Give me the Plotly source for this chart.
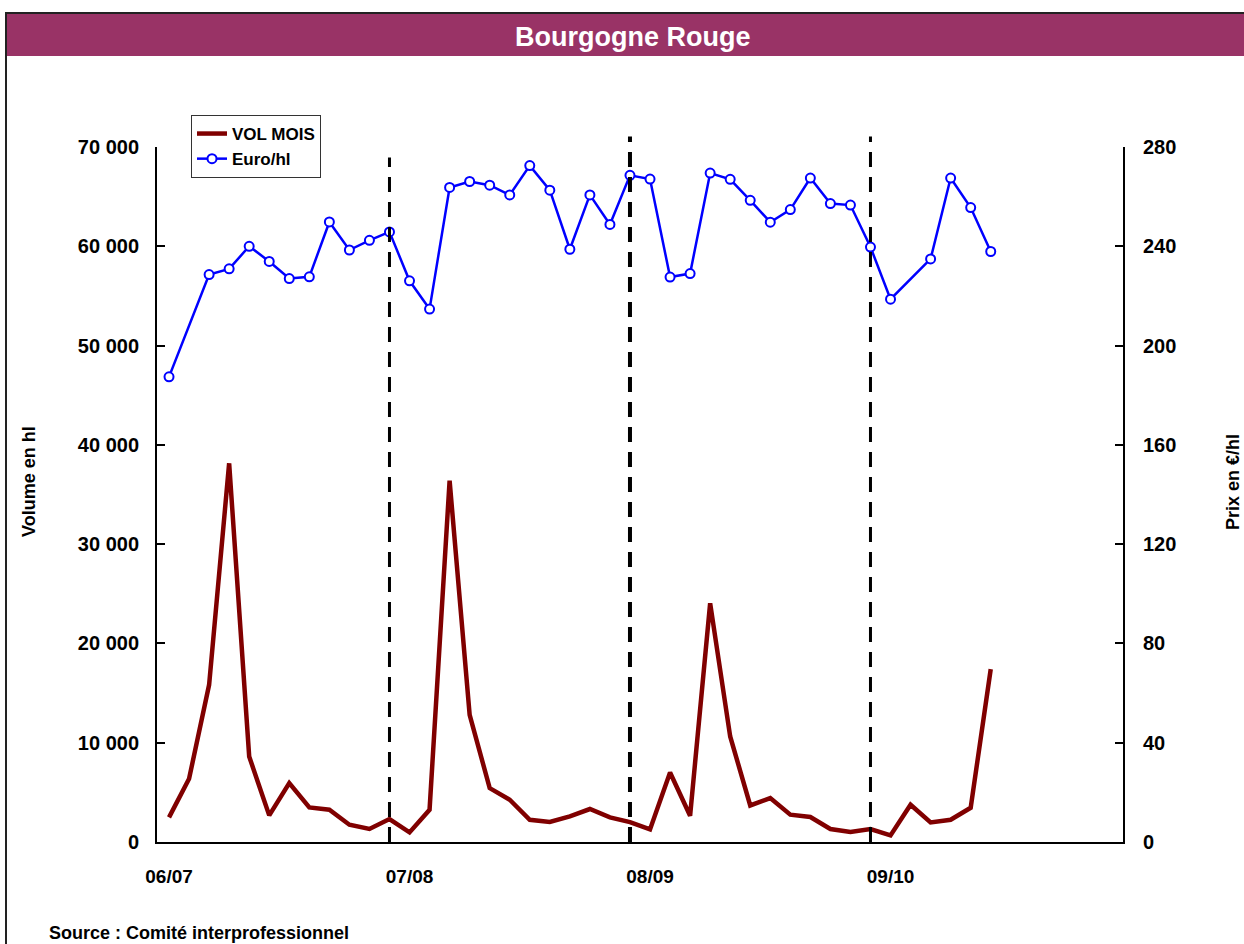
import plotly.graph_objects as go

# Volume mensuel (hl) et prix (euro/hl), campagnes 06/07 a 09/10
vol_mois = [2480, 6370, 15830, 38140, 8610, 2680, 5940, 3480, 3250, 1740, 1310, 2310,
            970, 3250, 36390, 12810, 5430, 4260, 2240, 2010, 2580, 3320, 2480, 2010,
            1270, 7000, 2650, 24050, 10630, 3680, 4430, 2750, 2520, 1310, 1010, 1310,
            660, 3750, 1970, 2240, 3450, 17410]
euro_hl = [187.4, None, 228.6, 230.9, 240.0, 233.9, 227.0, 227.7, 249.8, 238.5, 242.4, 245.8,
           226.1, 214.7, 263.7, 266.1, 264.6, 260.7, 272.5, 262.6, 238.8, 260.7, 248.8, 268.6,
           267.1, 227.6, 229.0, 269.5, 267.0, 258.5, 249.7, 254.8, 267.5, 257.2, 256.6, 239.7,
           218.7, None, 234.9, 267.5, 255.6, 237.9]
campagnes = ["06/07", "07/08", "08/09", "09/10"]
fin_campagne = [11, 23, 35]  # dernier mois de chaque campagne

mois = list(range(len(vol_mois)))

# taille de la page et marges (pixels)
W, H = 1244, 944
L, R, T, B = 157, 121, 147, 102
PW, PH = W - L - R, H - T - B


def fx(px):
    return (px - L) / PW


def fy(py):
    return (H - B - py) / PH


FONT = "Liberation Sans, Arial, sans-serif"
PLUM = "#993366"

fig = go.Figure()

fig.add_trace(go.Scatter(
    x=mois, y=vol_mois, name="VOL MOIS", mode="lines",
    line=dict(color="#800000", width=4.5),
))
fig.add_trace(go.Scatter(
    x=mois, y=euro_hl, name="Euro/hl", mode="lines+markers", yaxis="y2",
    connectgaps=True,
    line=dict(color="#0000FF", width=2.5),
    marker=dict(symbol="circle", size=9, color="white", line=dict(color="#0000FF", width=2)),
))

# traits de separation des campagnes
shapes = []
for i, m in enumerate(fin_campagne):
    shapes.append(dict(
        type="line", xref="x", yref="paper", x0=m, x1=m, y0=0,
        y1=0.985 if i == 0 else 1.015,
        line=dict(color="black", width=4 if i == 1 else 3, dash="15px,10px"),
    ))

# cadre et bandeau titre
shapes.append(dict(type="rect", xref="paper", yref="paper",
                   x0=fx(6), x1=fx(1270), y0=fy(56), y1=fy(13),
                   fillcolor=PLUM, line=dict(width=0), layer="below"))
shapes.append(dict(type="rect", xref="paper", yref="paper",
                   x0=fx(6), x1=fx(1270), y0=fy(980), y1=fy(13),
                   line=dict(color="#222222", width=2), layer="above"))

annotations = [
    dict(text="Bourgogne Rouge", xref="paper", yref="paper", x=fx(632), y=fy(37),
         xanchor="center", yanchor="middle", showarrow=False,
         font=dict(family=FONT, size=27, color="white", weight="bold")),
    dict(text="Volume en hl", xref="paper", yref="paper", x=fx(29), y=fy(482),
         xanchor="center", yanchor="middle", textangle=-90, showarrow=False,
         font=dict(family=FONT, size=18, color="black", weight="bold")),
    dict(text="Prix en €/hl", xref="paper", yref="paper", x=fx(1233), y=fy(482),
         xanchor="center", yanchor="middle", textangle=-90, showarrow=False,
         font=dict(family=FONT, size=18, color="black", weight="bold")),
    dict(text="Source : Comité interprofessionnel", xref="paper", yref="paper",
         x=fx(47), y=fy(933), xanchor="left", yanchor="middle", showarrow=False,
         font=dict(family=FONT, size=18, color="black", weight="bold")),
]

axis_style = dict(
    showline=True, linecolor="black", linewidth=2, showgrid=False, zeroline=False,
    ticks="inside", ticklen=8, tickwidth=2, tickcolor="black",
    tickfont=dict(family=FONT, size=20, color="black", weight="bold"),
)

fig.update_layout(
    width=W, height=H,
    margin=dict(l=L, r=R, t=T, b=B),
    paper_bgcolor="white", plot_bgcolor="white",
    separators=", ",
    showlegend=True,
    legend=dict(
        x=fx(191), y=fy(115), xanchor="left", yanchor="top",
        bordercolor="#333333", borderwidth=1, bgcolor="white",
        font=dict(family=FONT, size=17, color="black", weight="bold"),
        tracegroupgap=0,
    ),
    xaxis=dict(
        range=[-0.6, 47.6], showline=True, linecolor="black", linewidth=2,
        showgrid=False, zeroline=False, ticks="",
        tickvals=[12 * i for i in range(len(campagnes))], ticktext=campagnes,
        ticklabelstandoff=16,
        tickfont=dict(family=FONT, size=19, color="black", weight="bold"),
    ),
    yaxis=dict(range=[0, 70000], dtick=10000, tickformat=",d",
               ticklabelstandoff=12, **axis_style),
    yaxis2=dict(range=[0, 280], dtick=40, overlaying="y", side="right",
                ticklabelstandoff=14, **axis_style),
    shapes=shapes,
    annotations=annotations,
)

# page sans marge pour que la figure occupe toute la fenetre
fig.write_html(
    "out.html",
    config={"displayModeBar": False},
    post_script="document.body.style.margin='0';document.body.style.overflow='hidden';",
)
